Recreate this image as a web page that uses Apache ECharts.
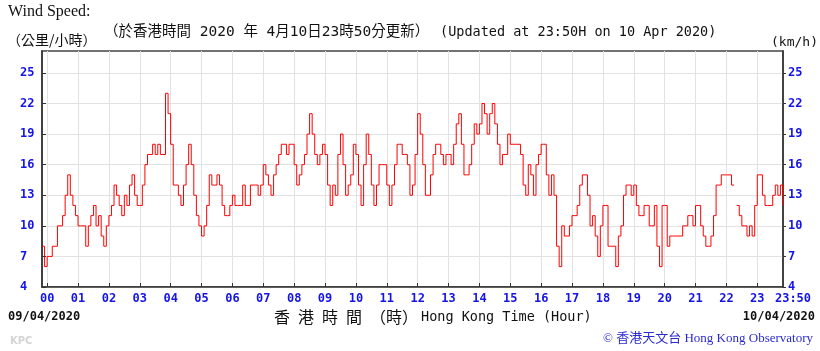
<!DOCTYPE html>
<html>
<head>
<meta charset="utf-8">
<script src="https://cdn.jsdelivr.net/npm/echarts@6/dist/echarts.min.js"></script>
<style>
  html, body { margin: 0; padding: 0; background: #fff; }
  #chart { width: 820px; height: 351px; }
</style>
</head>
<body>
<div id="chart"></div>
<script>
// minutes from 00:00 on 09/04; the trace starts at 23:50 the day before
var startMinute = -10
var stepMinutes = 5

var hourLabels = ['00', '01', '02', '03', '04', '05', '06', '07', '08', '09', '10', '11',
  '12', '13', '14', '15', '16', '17', '18', '19', '20', '21', '22', '23']
var endLabel = '23:50'
var yTicks = [4, 7, 10, 13, 16, 19, 22, 25]

// wind speed (km/h), one value every 5 minutes, one row per hour
var windSpeed = [
  8, 6,
  7, 7, 8, 8, 10, 10, 11, 13, 15, 13, 12, 11,
  10, 10, 10, 8, 10, 11, 12, 10, 11, 9, 8, 10,
  11, 12, 14, 13, 12, 11, 13, 12, 14, 15, 13, 12,
  12, 14, 16, 17, 17, 18, 17, 18, 17, 17, 23, 21,
  18, 14, 14, 13, 12, 14, 16, 18, 16, 13, 11, 10,
  9, 10, 12, 15, 14, 14, 15, 14, 12, 11, 11, 12,
  13, 12, 12, 12, 14, 12, 12, 14, 14, 14, 13, 14,
  16, 15, 14, 13, 15, 16, 17, 18, 18, 17, 18, 18,
  16, 14, 15, 16, 17, 19, 21, 19, 17, 16, 17, 18,
  17, 14, 12, 14, 13, 17, 19, 16, 13, 14, 15, 18,
  17, 14, 12, 16, 19, 17, 14, 12, 14, 16, 16, 16,
  14, 12, 14, 16, 18, 18, 17, 17, 16, 13, 14, 17,
  21, 19, 16, 13, 13, 15, 17, 18, 18, 17, 16, 17,
  17, 16, 18, 20, 21, 18, 15, 15, 16, 18, 20, 19,
  20, 22, 21, 19, 21, 22, 20, 18, 16, 17, 17, 19,
  18, 18, 18, 18, 17, 14, 13, 16, 15, 13, 16, 17,
  18, 18, 15, 13, 15, 13, 8, 6, 10, 9, 9, 10,
  11, 11, 12, 14, 15, 15, 13, 10, 11, 9, 7, 10,
  12, 12, 8, 8, 8, 6, 9, 10, 13, 14, 14, 13,
  14, 12, 11, 11, 12, 12, 10, 10, 12, 8, 6, 12,
  12, 8, 9, 9, 9, 9, 9, 10, 10, 11, 11, 10,
  12, 12, 10, 9, 8, 8, 9, 11, 14, 14, 15, 15,
  15, 15, 14, null, 12, 11, 10, 10, 9, 10, 9, 12,
  15, 15, 13, 12, 12, 12, 13, 14, 13, 14, 12
]

var blue = '#1414e6'
var monoBold = 'bold 12px "DejaVu Sans Mono", monospace'

var seriesData = windSpeed.map((v, i) => [startMinute + i * stepMinutes, v])
var hourTicks = hourLabels.map((h, i) => i * 60)
var xTickValues = hourTicks.concat([1430])

var chart = echarts.init(document.getElementById('chart'), null, { renderer: 'canvas' })

var yAxisBase = {
  type: 'value',
  min: 4,
  max: 27.15,
  axisLine: { show: true, onZero: false, lineStyle: { color: '#333', width: 1.5 } },
  axisTick: { show: true, inside: true, length: 4, customValues: yTicks, lineStyle: { color: '#333' } },
  axisLabel: {
    customValues: yTicks,
    color: blue,
    fontFamily: 'DejaVu Sans Mono',
    fontWeight: 'bold',
    fontSize: 12
  }
}

chart.setOption({
  animation: false,
  grid: {
    left: 42,
    right: 37,
    top: 51,
    bottom: 64,
    show: true,
    borderColor: '#444',
    borderWidth: 1.5
  },
  xAxis: {
    type: 'value',
    min: startMinute,
    max: 1430,
    axisLine: { show: true, onZero: false, lineStyle: { color: '#333', width: 1.5 } },
    axisTick: { show: true, inside: true, length: 4, customValues: hourTicks, lineStyle: { color: '#333' } },
    axisLabel: {
      customValues: xTickValues,
      margin: 6,
      color: blue,
      fontFamily: 'DejaVu Sans Mono',
      fontWeight: 'bold',
      fontSize: 12,
      formatter: v => (v === 1430 ? '{end|' + endLabel + '}' : hourLabels[Math.round(v / 60)]),
      rich: {
        end: {
          color: blue,
          fontFamily: 'DejaVu Sans Mono',
          fontWeight: 'bold',
          fontSize: 12,
          padding: [0, 0, 0, 20]
        }
      }
    },
    splitLine: { show: true, lineStyle: { color: '#e2e2e2', width: 1 } }
  },
  yAxis: [
    Object.assign({}, yAxisBase, {
      position: 'left',
      axisLabel: Object.assign({}, yAxisBase.axisLabel, { align: 'left', margin: 22 }),
      splitLine: { show: true, lineStyle: { color: '#e2e2e2', width: 1 } }
    }),
    Object.assign({}, yAxisBase, {
      position: 'right',
      axisTick: Object.assign({}, yAxisBase.axisTick, { inside: false, length: 3 }),
      axisLabel: Object.assign({}, yAxisBase.axisLabel, { align: 'left', margin: 5 }),
      splitLine: { show: false }
    })
  ],
  series: [
    {
      type: 'line',
      step: 'end',
      symbol: 'none',
      connectNulls: false,
      data: seriesData,
      lineStyle: { color: '#ff0000', width: 1 }
    }
  ],
  graphic: [
    { type: 'text', x: 8, y: 12, style: { text: 'Wind Speed:', font: '16px "Liberation Serif", serif', fill: '#111', textVerticalAlign: 'middle' } },
    { type: 'text', x: 7, y: 40, style: { text: '（公里/小時）', font: '14px "Noto Sans CJK TC", sans-serif', fill: '#111', textVerticalAlign: 'middle' } },
    { type: 'text', x: 104, y: 32, style: { text: '（於香港時間 2020 年 4月10日23時50分更新）', font: '14.5px "DejaVu Sans Mono", "Noto Sans CJK TC", monospace', fill: '#111', textVerticalAlign: 'middle' } },
    { type: 'text', x: 440, y: 32, style: { text: '(Updated at 23:50H on 10 Apr 2020)', font: '13.5px "DejaVu Sans Mono", monospace', fill: '#111', textVerticalAlign: 'middle' } },
    { type: 'text', x: 818, y: 43, style: { text: '(km/h)', font: '13px "DejaVu Sans Mono", monospace', fill: '#111', textAlign: 'right', textVerticalAlign: 'middle' } },
    { type: 'text', x: 8, y: 317, style: { text: '09/04/2020', font: monoBold, fill: '#111', textVerticalAlign: 'middle' } },
    { type: 'text', x: 815, y: 317, style: { text: '10/04/2020', font: monoBold, fill: '#111', textAlign: 'right', textVerticalAlign: 'middle' } },
    { type: 'text', x: 274, y: 317, style: { text: '香\u2002港\u2002時\u2002間\u2002（時）', font: '16px "Noto Sans CJK TC", sans-serif', fill: '#111', textVerticalAlign: 'middle' } },
    { type: 'text', x: 421, y: 317, style: { text: 'Hong Kong Time (Hour)', font: '13.5px "DejaVu Sans Mono", monospace', fill: '#111', textVerticalAlign: 'middle' } },
    { type: 'text', x: 10, y: 341, style: { text: 'KPC', font: 'bold 10px "DejaVu Sans", sans-serif', fill: '#d4d4d4', textVerticalAlign: 'middle' } },
    { type: 'text', x: 813, y: 339, style: { text: '© 香港天文台 Hong Kong Observatory', font: '13px "Liberation Serif", "Noto Sans CJK TC", serif', fill: '#2a2ad0', textAlign: 'right', textVerticalAlign: 'middle' } }
  ]
})
</script>
</body>
</html>
